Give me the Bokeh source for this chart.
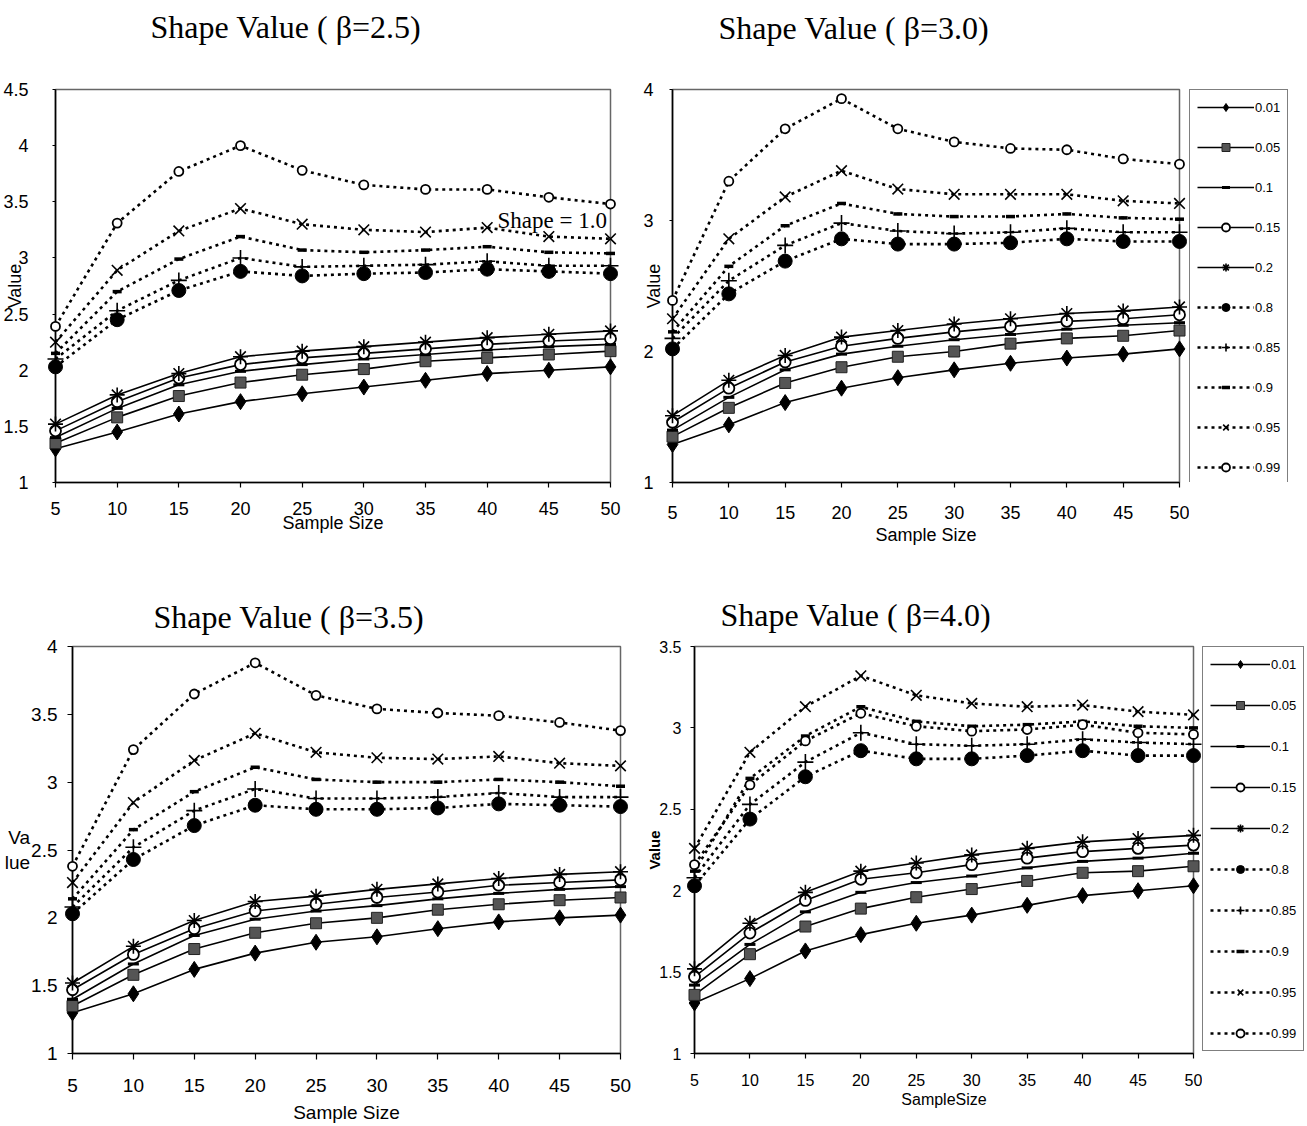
import math
from bokeh.plotting import figure
from bokeh.layouts import column, row
from bokeh.models import Range1d, FixedTicker, Label, Legend, LegendItem, Title
from bokeh.embed import file_html
from bokeh.resources import INLINE

# ---------------- data ----------------
sample_size = [5, 10, 15, 20, 25, 30, 35, 40, 45, 50]
levels = ["0.01", "0.05", "0.1", "0.15", "0.2", "0.8", "0.85", "0.9", "0.95", "0.99"]
x_ticks = [5, 10, 15, 20, 25, 30, 35, 40, 45, 50]

titles = ["Shape Value ( \u03b2=2.5)", "Shape Value ( \u03b2=3.0)",
          "Shape Value ( \u03b2=3.5)", "Shape Value ( \u03b2=4.0)"]

y_ticks_25 = [1, 1.5, 2, 2.5, 3, 3.5, 4, 4.5]
y_labels_25 = ["1", "1.5", "2", "2.5", "3", "3.5", "4", "4.5"]
y_ticks_30 = [1, 2, 3, 4]
y_labels_30 = ["1", "2", "3", "4"]
y_ticks_35 = [1, 1.5, 2, 2.5, 3, 3.5, 4]
y_labels_35 = ["1", "1.5", "2", "2.5", "3", "3.5", "4"]
y_ticks_40 = [1, 1.5, 2, 2.5, 3, 3.5]
y_labels_40 = ["1", "1.5", "2", "2.5", "3", "3.5"]

# beta = 2.5
b25_q01 = [1.30, 1.45, 1.61, 1.72, 1.79, 1.85, 1.91, 1.97, 2.00, 2.03]
b25_q05 = [1.35, 1.58, 1.77, 1.89, 1.96, 2.01, 2.08, 2.11, 2.14, 2.17]
b25_q10 = [1.40, 1.66, 1.87, 1.99, 2.05, 2.10, 2.14, 2.18, 2.21, 2.23]
b25_q15 = [1.46, 1.72, 1.93, 2.05, 2.11, 2.15, 2.19, 2.23, 2.26, 2.28]
b25_q20 = [1.52, 1.78, 1.97, 2.12, 2.17, 2.21, 2.25, 2.29, 2.32, 2.35]
b25_q80 = [2.03, 2.45, 2.71, 2.88, 2.84, 2.86, 2.87, 2.90, 2.88, 2.86]
b25_q85 = [2.10, 2.53, 2.80, 3.00, 2.92, 2.93, 2.94, 2.97, 2.93, 2.93]
b25_q90 = [2.15, 2.70, 2.99, 3.19, 3.07, 3.05, 3.07, 3.10, 3.05, 3.04]
b25_q95 = [2.25, 2.89, 3.24, 3.44, 3.30, 3.25, 3.23, 3.27, 3.19, 3.17]
b25_q99 = [2.39, 3.31, 3.77, 4.00, 3.78, 3.65, 3.61, 3.61, 3.54, 3.48]

# beta = 3.0
b30_q01 = [1.29, 1.44, 1.61, 1.72, 1.80, 1.86, 1.91, 1.95, 1.98, 2.02]
b30_q05 = [1.35, 1.57, 1.76, 1.88, 1.96, 2.00, 2.06, 2.10, 2.12, 2.16]
b30_q10 = [1.40, 1.65, 1.86, 1.98, 2.04, 2.09, 2.13, 2.17, 2.20, 2.22]
b30_q15 = [1.46, 1.72, 1.92, 2.04, 2.10, 2.15, 2.19, 2.23, 2.25, 2.28]
b30_q20 = [1.51, 1.78, 1.97, 2.11, 2.16, 2.21, 2.25, 2.29, 2.31, 2.34]
b30_q80 = [2.02, 2.44, 2.69, 2.86, 2.82, 2.82, 2.83, 2.86, 2.84, 2.84]
b30_q85 = [2.10, 2.54, 2.81, 2.98, 2.92, 2.90, 2.91, 2.94, 2.91, 2.91]
b30_q90 = [2.15, 2.65, 2.96, 3.13, 3.05, 3.03, 3.03, 3.05, 3.02, 3.01]
b30_q95 = [2.25, 2.86, 3.18, 3.38, 3.24, 3.20, 3.20, 3.20, 3.15, 3.13]
b30_q99 = [2.39, 3.30, 3.70, 3.93, 3.70, 3.60, 3.55, 3.54, 3.47, 3.43]

# beta = 3.5
b35_q01 = [1.30, 1.44, 1.62, 1.74, 1.82, 1.86, 1.92, 1.97, 2.00, 2.02]
b35_q05 = [1.35, 1.58, 1.77, 1.89, 1.96, 2.00, 2.06, 2.10, 2.13, 2.15]
b35_q10 = [1.40, 1.66, 1.87, 1.99, 2.05, 2.09, 2.14, 2.18, 2.21, 2.23]
b35_q15 = [1.47, 1.73, 1.92, 2.05, 2.10, 2.15, 2.19, 2.24, 2.26, 2.28]
b35_q20 = [1.52, 1.79, 1.98, 2.12, 2.16, 2.21, 2.25, 2.29, 2.32, 2.34]
b35_q80 = [2.03, 2.43, 2.68, 2.83, 2.80, 2.80, 2.81, 2.84, 2.83, 2.82]
b35_q85 = [2.08, 2.52, 2.79, 2.95, 2.88, 2.88, 2.89, 2.92, 2.89, 2.89]
b35_q90 = [2.14, 2.65, 2.93, 3.11, 3.02, 3.00, 3.00, 3.02, 3.00, 2.97]
b35_q95 = [2.26, 2.85, 3.16, 3.36, 3.22, 3.18, 3.17, 3.19, 3.14, 3.12]
b35_q99 = [2.38, 3.24, 3.65, 3.88, 3.64, 3.54, 3.51, 3.49, 3.44, 3.38]

# beta = 4.0
b40_q01 = [1.31, 1.46, 1.63, 1.73, 1.80, 1.85, 1.91, 1.97, 2.00, 2.03]
b40_q05 = [1.36, 1.61, 1.78, 1.89, 1.96, 2.01, 2.06, 2.11, 2.12, 2.15]
b40_q10 = [1.42, 1.67, 1.87, 1.99, 2.05, 2.09, 2.14, 2.18, 2.20, 2.23]
b40_q15 = [1.47, 1.74, 1.94, 2.07, 2.11, 2.16, 2.20, 2.24, 2.26, 2.28]
b40_q20 = [1.52, 1.80, 1.99, 2.12, 2.17, 2.22, 2.26, 2.30, 2.32, 2.34]
b40_q80 = [2.03, 2.44, 2.70, 2.86, 2.81, 2.81, 2.83, 2.86, 2.83, 2.83]
b40_q85 = [2.08, 2.53, 2.79, 2.97, 2.90, 2.89, 2.90, 2.93, 2.91, 2.90]
b40_q90 = [2.12, 2.69, 2.95, 3.13, 3.04, 3.01, 3.02, 3.04, 3.01, 3.00]
b40_q95 = [2.26, 2.85, 3.13, 3.32, 3.20, 3.15, 3.13, 3.14, 3.10, 3.08]
b40_q99 = [2.16, 2.65, 2.92, 3.09, 3.01, 2.98, 2.99, 3.02, 2.97, 2.96]

series_25 = [b25_q01, b25_q05, b25_q10, b25_q15, b25_q20, b25_q80, b25_q85, b25_q90, b25_q95, b25_q99]
series_30 = [b30_q01, b30_q05, b30_q10, b30_q15, b30_q20, b30_q80, b30_q85, b30_q90, b30_q95, b30_q99]
series_35 = [b35_q01, b35_q05, b35_q10, b35_q15, b35_q20, b35_q80, b35_q85, b35_q90, b35_q95, b35_q99]
series_40 = [b40_q01, b40_q05, b40_q10, b40_q15, b40_q20, b40_q80, b40_q85, b40_q90, b40_q95, b40_q99]

# ---------------- styles ----------------
SOLID, DOT = "solid", "3 4"
STYLES = [
    dict(marker="diamond", size=16, fill="black", line="black", mlw=1, dash=SOLID, lw=1.6),
    dict(marker="square", size=11, fill="#555555", line="#222222", mlw=1, dash=SOLID, lw=1.6),
    dict(marker="dash", size=11, fill="black", line="black", mlw=3, dash=SOLID, lw=1.6),
    dict(marker="circle", size=11, fill="white", line="black", mlw=1.8, dash=SOLID, lw=1.6),
    dict(marker="asterisk", size=15, fill="black", line="black", mlw=1.6, dash=SOLID, lw=1.6),
    dict(marker="circle", size=14, fill="black", line="black", mlw=1, dash=DOT, lw=2.6),
    dict(marker="cross", size=16, fill="black", line="black", mlw=1.6, dash=DOT, lw=2.6),
    dict(marker="dash", size=9, fill="black", line="black", mlw=3.5, dash=DOT, lw=2.6),
    dict(marker="x", size=15, fill="black", line="black", mlw=1.6, dash=DOT, lw=2.6),
    dict(marker="circle", size=9, fill="white", line="black", mlw=1.8, dash=DOT, lw=2.6),
]

SANS = "Liberation Sans"
SERIF = "Liberation Serif"


def draw_series(p, series, hidden=False):
    lines, marks = [], []
    for vals, st in zip(series, STYLES):
        lines.append(p.line(sample_size, vals, line_color="black", line_width=st["lw"],
                            line_dash=st["dash"], visible=not hidden))
    for vals, st in zip(series, STYLES):
        marks.append(p.scatter(sample_size, vals, marker=st["marker"], size=st["size"],
                               fill_color=st["fill"], line_color=st["line"],
                               line_width=st["mlw"], level="overlay", visible=not hidden))
    return lines, marks


def make_panel(series, y_lo, y_hi, yt, yl, w, h, bl, br, bt, bb,
               tick_size, x_out, x_sd, y_out, y_sd,
               title, title_left, title_valign, title_standoff,
               ylab, ylab_size, ylab_sd, xlab, xlab_size, xlab_sd,
               ylab_horizontal=False, ylab_bold=False):
    p = figure(width=w, height=h, output_backend="svg", toolbar_location=None,
               x_range=Range1d(5, 50), y_range=Range1d(y_lo, y_hi),
               min_border_left=bl, min_border_right=br, min_border_top=bt, min_border_bottom=bb)
    p.title = Title(text=title, align="left", offset=title_left, standoff=title_standoff,
                    vertical_align=title_valign,
                    text_font=SERIF, text_font_size="32px", text_font_style="normal",
                    text_color="black")
    p.grid.visible = False
    p.outline_line_color = "#666666"
    p.outline_line_width = 1.5
    p.background_fill_color = "white"
    p.border_fill_color = "white"
    for ax, ticks, labels, out, sd in ((p.xaxis[0], x_ticks, [str(t) for t in x_ticks], x_out, x_sd),
                                        (p.yaxis[0], yt, yl, y_out, y_sd)):
        ax.ticker = FixedTicker(ticks=ticks)
        ax.major_label_overrides = {t: l for t, l in zip(ticks, labels)}
        ax.minor_tick_line_color = None
        ax.axis_line_color = "black"
        ax.axis_line_width = 1.6
        ax.major_tick_line_color = "black"
        ax.major_tick_line_width = 1.2
        ax.major_tick_in = 0
        ax.major_tick_out = out
        ax.major_label_standoff = sd
        ax.major_label_text_font = SANS
        ax.major_label_text_font_size = tick_size
        ax.major_label_text_color = "black"
        ax.axis_label_text_font = SANS
        ax.axis_label_text_font_style = "normal"
        ax.axis_label_text_color = "black"
    p.yaxis[0].axis_label = ylab
    p.yaxis[0].axis_label_text_font_size = ylab_size
    p.yaxis[0].axis_label_standoff = ylab_sd
    if ylab_horizontal:
        p.yaxis[0].axis_label_orientation = "horizontal"
    if ylab_bold:
        p.yaxis[0].axis_label_text_font_style = "bold"
    p.xaxis[0].axis_label = xlab
    p.xaxis[0].axis_label_text_font_size = xlab_size
    p.xaxis[0].axis_label_standoff = xlab_sd
    draw_series(p, series)
    return p


def make_legend_fig(series, w, h, top, spacing, glyph_w):
    lf = figure(width=w, height=h, output_backend="svg", toolbar_location=None,
                x_axis_type=None, y_axis_type=None,
                x_range=Range1d(5, 50), y_range=Range1d(1, 4),
                min_border_left=0, min_border_right=0, min_border_top=top, min_border_bottom=0)
    lf.grid.visible = False
    lf.outline_line_color = None
    lf.background_fill_color = "white"
    lf.border_fill_color = "white"
    lines, marks = draw_series(lf, series, hidden=True)
    items = [LegendItem(label=lv, renderers=[r, m]) for lv, r, m in zip(levels, lines, marks)]
    leg = Legend(items=items, location="top_left", orientation="vertical",
                 glyph_width=glyph_w, glyph_height=20, label_standoff=1, padding=7,
                 spacing=spacing, margin=0,
                 border_line_color="black", border_line_width=1.5,
                 label_text_font=SANS, label_text_font_size="13px",
                 label_text_color="black",
                 inactive_fill_alpha=0.0,
                 background_fill_color="white", background_fill_alpha=1.0)
    lf.add_layout(leg)
    return lf


# Panel 1 (beta 2.5)
p1 = make_panel(series_25, 1, 4.5, y_ticks_25, y_labels_25, 640, 560, 55, 30, 89, 78,
                "18px", 5, 14, 3, 24,
                titles[0] + "\n", 95, "top", 14,
                "Value", "18px", -25, "Sample Size", "18px", -5)
p1.add_layout(Label(x=442, y=262, x_units="screen", y_units="screen", text="Shape = 1.0",
                    text_font=SERIF, text_font_size="23px", text_align="left",
                    text_baseline="middle", text_color="black"))

# Panel 2 (beta 3.0)
p2 = make_panel(series_30, 1, 4, y_ticks_30, y_labels_30, 549, 560, 32, 10, 87, 77,
                "18px", 5, 18, 3, 16,
                titles[1] + "\n", 46, "top", 11,
                "Value", "18px", -24, "Sample Size", "18px", 3)
lg2 = make_legend_fig(series_30, 118, 560, 85, 20, 57)

# Panel 3 (beta 3.5)
p3 = make_panel(series_35, 1, 4, y_ticks_35, y_labels_35, 640, 566, 72, 20, 86, 71,
                "19px", 6, 19, 5, 10,
                titles[2], 81, "bottom", 24,
                "Va\nlue", "19px", -2, "Sample Size", "19px", 7,
                ylab_horizontal=True)

# Panel 4 (beta 4.0)
p4 = make_panel(series_40, 1, 3.5, y_ticks_40, y_labels_40, 562, 566, 54, 9, 84, 73,
                "16px", 5, 15, 4, 9,
                titles[3], 26, "bottom", 28,
                "Value", "15px", -7, "SampleSize", "16px", 2,
                ylab_bold=True)
lg4 = make_legend_fig(series_40, 105, 566, 82, 21, 60)

layout = column(row(p1, p2, lg2), row(p3, p4, lg4))
open("out.html", "w").write(file_html(layout, INLINE))
